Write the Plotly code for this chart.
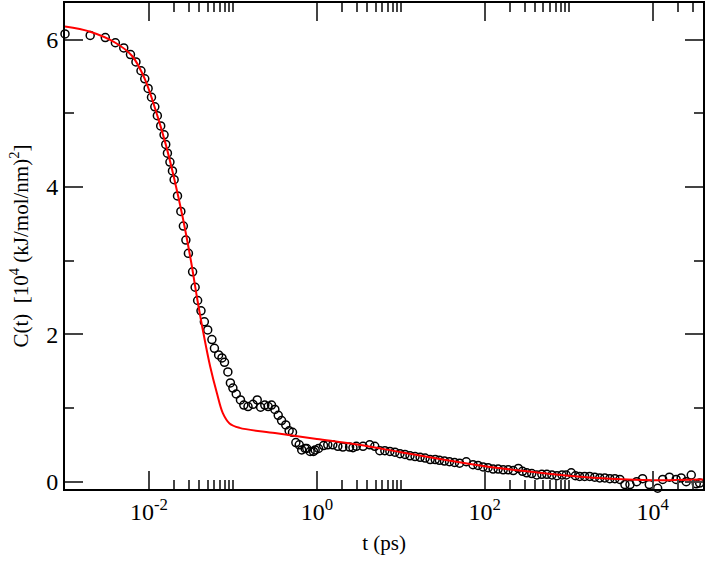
import plotly.graph_objects as go

log_t = [-3, -2.70, -2.52, -2.40, -2.30, -2.22, -2.155, -2.095, -2.05, -2.01, -1.97, -1.93, -1.90, -1.86, -1.82, -1.80,
         -1.78, -1.75, -1.72, -1.70, -1.66, -1.62, -1.59, -1.56, -1.53, -1.48, -1.45, -1.42, -1.38, -1.34, -1.30,
         -1.25, -1.22, -1.17, -1.13, -1.10, -1.06, -1.03, -1.00, -0.96, -0.91, -0.87, -0.82, -0.76, -0.71, -0.67,
         -0.62, -0.58, -0.54, -0.50, -0.46, -0.42, -0.37, -0.33, -0.29, -0.25, -0.21, -0.18, -0.14, -0.12, -0.08,
         -0.04, -0.02, 0.02, 0.08, 0.13, 0.19, 0.25, 0.31, 0.39, 0.43, 0.47, 0.55, 0.63, 0.69, 0.75, 0.81, 0.87, 0.93,
         0.99, 1.05, 1.11, 1.17, 1.23, 1.29, 1.35, 1.41, 1.46, 1.52, 1.58, 1.64, 1.70, 1.78, 1.86, 1.92, 1.98, 2.04,
         2.10, 2.16, 2.22, 2.28, 2.34, 2.40, 2.45, 2.50, 2.56, 2.62, 2.68, 2.74, 2.80, 2.86, 2.92, 2.97, 3.03, 3.08,
         3.13, 3.19, 3.25, 3.31, 3.37, 3.43, 3.49, 3.55, 3.61, 3.67, 3.73, 3.81, 3.88, 3.96, 4.06, 4.12, 4.20, 4.28,
         4.34, 4.40, 4.46, 4.52, 4.56]
c_data = [6.08, 6.06, 6.03, 5.96, 5.89, 5.80, 5.70, 5.58, 5.47, 5.34, 5.22, 5.09, 4.97, 4.83, 4.71, 4.58,
          4.46, 4.34, 4.22, 4.10, 3.88, 3.67, 3.47, 3.28, 3.10, 2.85, 2.64, 2.46, 2.32, 2.17, 2.06,
          1.93, 1.81, 1.72, 1.68, 1.62, 1.49, 1.34, 1.27, 1.19, 1.11, 1.04, 1.02, 1.05, 1.11, 1.01,
          1.04, 1.02, 1.04, 0.98, 0.90, 0.83, 0.77, 0.69, 0.67, 0.53, 0.50, 0.43, 0.45, 0.45, 0.41,
          0.41, 0.43, 0.45, 0.49, 0.50, 0.50, 0.48, 0.47, 0.47, 0.46, 0.48, 0.48, 0.50, 0.48, 0.42, 0.42, 0.41, 0.40,
          0.38, 0.37, 0.35, 0.34, 0.33, 0.32, 0.30, 0.30, 0.29, 0.28, 0.27, 0.26, 0.25, 0.27, 0.23, 0.22, 0.20, 0.19,
          0.17, 0.17, 0.16, 0.16, 0.15, 0.18, 0.14, 0.12, 0.11, 0.09, 0.10, 0.10, 0.09, 0.08, 0.09, 0.09, 0.12, 0.08,
          0.07, 0.07, 0.07, 0.06, 0.05, 0.05, 0.04, 0.04, 0.03, -0.04, -0.04, 0.00, 0.04, -0.04, -0.09, 0.03, 0.06, 0.03,
          0.05, 0.00, 0.09, -0.03, -0.02]

fit_log_t = [-3, -2.7, -2.4, -2.2, -2.05, -1.9, -1.8, -1.7, -1.6, -1.5, -1.42, -1.35, -1.27, -1.19, -1.12, -1.04,
             -0.92, -0.5, 0.0, 0.5, 1.0, 1.5, 2.0, 2.5, 3.0, 3.5, 4.0, 4.6]
fit_c = [6.18, 6.11, 5.96, 5.78, 5.47, 4.97, 4.58, 4.12, 3.60, 3.00, 2.45, 2.01, 1.56, 1.20, 0.93, 0.79,
         0.73, 0.66, 0.58, 0.50, 0.40, 0.30, 0.21, 0.14, 0.08, 0.04, 0.02, 0.03]

x_major = [1e-2, 1, 1e2, 1e4]
x_major_text = ["10<sup>-2</sup>", "10<sup>0</sup>", "10<sup>2</sup>", "10<sup>4</sup>"]
x_minor = [m * 10.0 ** d for d in (-2, 0, 2, 4) for m in (2, 3, 4, 5, 6, 7, 8, 9, 10)]

t = [10 ** v for v in log_t]
tf = [10 ** v for v in fit_log_t]

fig = go.Figure()
fig.add_trace(go.Scatter(x=t, y=c_data, mode="markers", cliponaxis=False,
                         marker=dict(symbol="circle-open", size=8, color="black", line=dict(width=1.5))))
fig.add_trace(go.Scatter(x=tf, y=fit_c, mode="lines", line=dict(color="red", width=2, shape="spline")))

font = dict(family="Liberation Serif, DejaVu Serif, serif", size=21, color="black")
tfont = dict(family="Liberation Serif, DejaVu Serif, serif", size=24, color="black")
fig.update_layout(
    width=706, height=561, showlegend=False,
    margin=dict(l=65, r=3, t=3, b=72, autoexpand=False),
    plot_bgcolor="white", paper_bgcolor="white", font=font,
    xaxis=dict(type="log", range=[-3, 4.6], tickmode="array", tickvals=x_major, ticktext=x_major_text,
               ticks="inside", ticklen=18, tickwidth=1.5, mirror="ticks", showline=True, linecolor="black",
               linewidth=2, showgrid=False, zeroline=False, automargin=False, tickfont=tfont,
               minor=dict(tickmode="array", tickvals=x_minor, ticks="inside", ticklen=9, tickwidth=1.5,
                          showgrid=False),
               title=dict(text="t (ps)", font=font, standoff=12)),
    yaxis=dict(range=[-0.1, 6.5], tickmode="array", tickvals=[0, 2, 4, 6],
               ticks="inside", ticklen=18, tickwidth=1.5, mirror="ticks", showline=True, linecolor="black",
               linewidth=2, showgrid=False, zeroline=False, automargin=False, tickfont=tfont,
               minor=dict(tickmode="array", tickvals=[1, 3, 5], ticks="inside", ticklen=9, tickwidth=1.5,
                          showgrid=False),
               title=dict(text="C(t)  [10<sup>4</sup> (kJ/mol/nm)<sup>2</sup>]", font=font, standoff=12)),
)
fig.write_html("out.html", config={"displayModeBar": False},
               post_script="document.body.style.margin='0';")
